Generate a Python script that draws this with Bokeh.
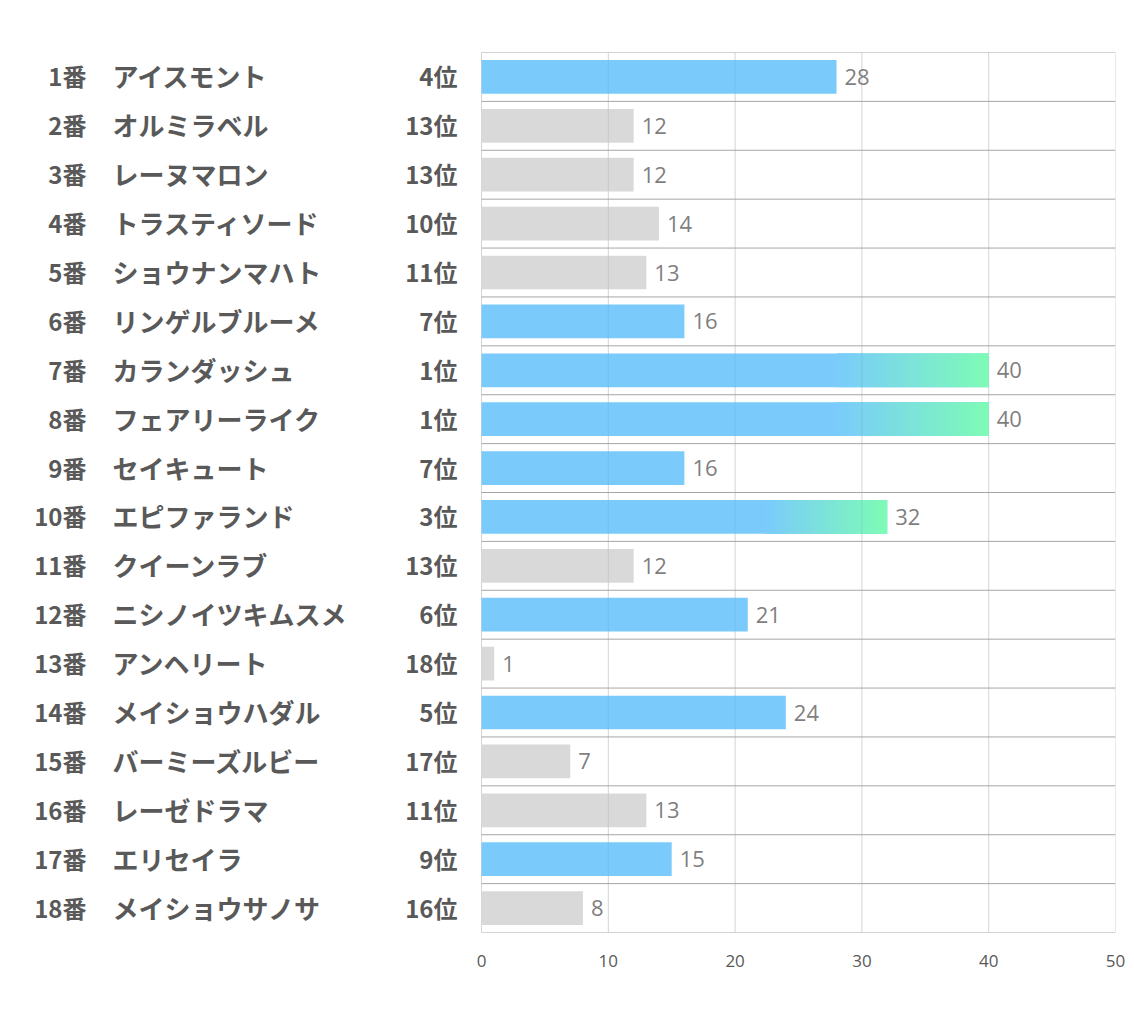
from bokeh.plotting import figure
from bokeh.models import Range1d, FixedTicker, ColumnDataSource
from bokeh.core.properties import value
from bokeh.embed import file_html
from bokeh.resources import INLINE

numbers = ["1番", "2番", "3番", "4番", "5番", "6番", "7番", "8番", "9番", "10番",
           "11番", "12番", "13番", "14番", "15番", "16番", "17番", "18番"]
names = ["アイスモント", "オルミラベル", "レーヌマロン", "トラスティソード", "ショウナンマハト",
         "リンゲルブルーメ", "カランダッシュ", "フェアリーライク", "セイキュート", "エピファランド",
         "クイーンラブ", "ニシノイツキムスメ", "アンヘリート", "メイショウハダル", "バーミーズルビー",
         "レーゼドラマ", "エリセイラ", "メイショウサノサ"]
ranks = [4, 13, 13, 10, 11, 7, 1, 1, 7, 3, 13, 6, 18, 5, 17, 11, 9, 16]
values = [28, 12, 12, 14, 13, 16, 40, 40, 16, 32, 12, 21, 1, 24, 7, 13, 15, 8]
x_ticks = [0, 10, 20, 30, 40, 50]

BLUE = (122, 203, 252)
GREEN = (126, 251, 182)
GRAY = "#D9D9D9"

n = len(values)
ys = [i + 0.5 for i in range(n)]
colors = ["#%02X%02X%02X" % BLUE if r <= 9 else GRAY for r in ranks]
rank_labels = [f"{r}位" for r in ranks]
value_labels = [str(v) for v in values]

# the frame also covers the label area on the left (481 px before the 0 line)
PX_PER_UNIT = 634 / 50.0
x_start = -481 / PX_PER_UNIT

p = figure(width=1126, height=1010, output_backend="svg", toolbar_location=None,
           x_range=Range1d(x_start, 50), y_range=Range1d(n, 0),
           min_border_left=0, min_border_right=11, min_border_top=52, min_border_bottom=78)
p.outline_line_color = None
p.xgrid.visible = False
p.ygrid.visible = False
p.yaxis.visible = False
p.background_fill_color = "white"
p.border_fill_color = "white"

# grid lines
xmax = x_ticks[-1]
p.segment(x0=x_ticks, y0=[0] * len(x_ticks), x1=x_ticks, y1=[n] * len(x_ticks),
          line_color="#D4D4D4", line_width=1)
hl = list(range(n + 1))
p.segment(x0=[0] * len(hl), y0=hl, x1=[xmax] * len(hl), y1=hl,
          line_color="#A6A6A6", line_width=1)

# bars
src = ColumnDataSource(dict(y=ys, right=values, color=colors, rank=rank_labels,
                            num=numbers, name=names, vlab=value_labels))
p.hbar(y="y", left=0, right="right", height=0.69, fill_color="color",
       line_color=None, source=src)

# gradient overlay for top 3
steps = 60
gl, gr, gy, gc = [], [], [], []
for v, r, y in zip(values, ranks, ys):
    if r <= 3:
        start = 0.7 * v
        w = (v - start) / steps
        for k in range(steps):
            t = (k + 1.0) / steps
            c = tuple(int(round(BLUE[j] + (GREEN[j] - BLUE[j]) * t)) for j in range(3))
            gl.append(start + k * w)
            gr.append(min(v, start + (k + 1.6) * w))
            gy.append(y)
            gc.append("#%02X%02X%02X" % c)
p.hbar(y=gy, left=gl, right=gr, height=0.69, fill_color=gc, line_color=None)

# faint gridlines showing through the bars
sx, sy0, sy1 = [], [], []
for v, y in zip(values, ys):
    for t in x_ticks[1:]:
        if t < v:
            sx.append(t)
            sy0.append(y - 0.345)
            sy1.append(y + 0.345)
p.segment(x0=sx, y0=sy0, x1=sx, y1=sy1, line_color="#5A8FB0", line_alpha=0.18, line_width=1)

# value labels
p.text(x="right", y="y", text="vlab", source=src, x_offset=8,
       text_align="left", text_baseline="middle", text_font=value("Open Sans"),
       text_font_size="22px", text_color="#7F7F7F")

# left labels (pixel offsets from the 0 line)
JP = value("Noto Sans CJK JP")
p.text(x=0, y="y", text="num", source=src, x_offset=-395, y_offset=-1,
       text_align="right", text_baseline="middle", text_font=JP,
       text_font_style="bold", text_font_size="24px", text_color="#595959")
p.text(x=0, y="y", text="name", source=src, x_offset=-369, y_offset=-1,
       text_align="left", text_baseline="middle", text_font=JP,
       text_font_style="bold", text_font_size="26px", text_color="#595959")
p.text(x=0, y="y", text="rank", source=src, x_offset=-24, y_offset=-1,
       text_align="right", text_baseline="middle", text_font=JP,
       text_font_style="bold", text_font_size="24px", text_color="#595959")

# x axis
p.xaxis.ticker = FixedTicker(ticks=x_ticks)
p.xaxis.axis_line_color = None
p.xaxis.major_tick_line_color = None
p.xaxis.minor_tick_line_color = None
p.xaxis.major_label_text_font = "Open Sans"
p.xaxis.major_label_text_font_size = "17px"
p.xaxis.major_label_text_color = "#595959"
p.xaxis.major_label_standoff = 16

open("out.html", "w").write(file_html(p, INLINE))
